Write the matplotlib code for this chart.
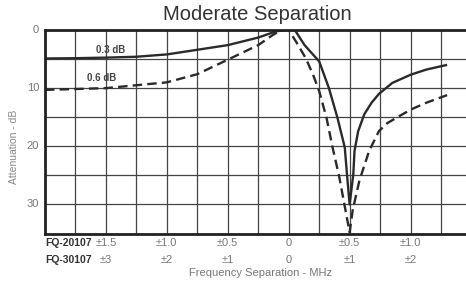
import matplotlib
matplotlib.use("Agg")
import matplotlib.pyplot as plt
import matplotlib.transforms as mtransforms

# ---- data (x in MHz on the FQ-20107 scale, y = attenuation in dB) ----
solid_x = [-2.0, -1.75, -1.5, -1.25, -1.0, -0.75, -0.5, -0.25, -0.1, 0.0, 0.05,
           0.13, 0.25, 0.33, 0.40, 0.46, 0.48, 0.50, 0.53, 0.54, 0.57, 0.62,
           0.68, 0.74, 0.85, 1.0, 1.13, 1.30]
solid_y = [4.9, 4.85, 4.75, 4.6, 4.2, 3.4, 2.6, 1.3, 0.2, 0.0, 0.0,
           2.6, 5.4, 10.0, 15.1, 20.2, 25.3, 30.0, 24.8, 20.8, 17.4, 14.5,
           12.5, 11.0, 9.1, 7.7, 6.8, 6.0]

dash_x = [-2.0, -1.5, -1.25, -1.0, -0.75, -0.5, -0.25, -0.13, -0.06, 0.0, 0.06,
          0.14, 0.20, 0.25, 0.31, 0.36, 0.415, 0.457, 0.50, 0.525, 0.58, 0.66,
          0.74, 0.81, 1.0, 1.13, 1.30]
dash_y = [10.3, 10.0, 9.5, 9.0, 7.6, 5.1, 2.6, 0.85, 0.0, 0.0, 2.0,
          4.85, 7.7, 10.5, 15.1, 20.2, 25.3, 30.0, 34.8, 31.0, 25.9, 20.8,
          17.4, 16.0, 13.7, 12.5, 11.2]

x_tick_pos = [-1.5, -1.0, -0.5, 0.0, 0.5, 1.0]
row1_labels = ["±1.5", "±1.0", "±0.5", "0", "±0.5", "±1.0"]
row2_labels = ["±3", "±2", "±1", "0", "±1", "±2"]
row1_name = "FQ-20107"
row2_name = "FQ-30107"
y_tick_pos = [0, 10, 20, 30]
y_tick_labels = ["0", "10", "20", "30"]
curve_labels = ["0.3 dB", "0.6 dB"]

plt.rcParams['font.family'] = ['Liberation Sans', 'DejaVu Sans']

W, H = 466, 283
fig = plt.figure(figsize=(W / 100, H / 100), dpi=100)
left, right, top, bottom = 45, 471.5, 30, 233.5
ax = fig.add_axes([left / W, 1 - bottom / H, (right - left) / W, (bottom - top) / H])

ax.set_xlim(-2.0, 1.5)
ax.set_ylim(35, 0)

grid_x = [i * 0.25 - 2.0 for i in range(15)]
grid_y = [i * 5 for i in range(8)]
ax.set_xticks(grid_x)
ax.set_yticks(grid_y)
ax.tick_params(length=0, labelbottom=False, labelleft=False)
ax.grid(True, color="#444444", linewidth=0.9)
ax.set_axisbelow(True)

for s in ["left", "bottom", "top"]:
    ax.spines[s].set_linewidth(2.0)
    ax.spines[s].set_color("#222222")
ax.spines["right"].set_visible(False)

ax.plot(solid_x, solid_y, color="#2a2a2a", lw=1.7, solid_capstyle="butt",
        solid_joinstyle="round")
ax.plot(dash_x, dash_y, color="#2a2a2a", lw=1.7, dashes=(4, 2.2))

# curve labels
ax.text(-1.465, 3.4, curve_labels[0], fontsize=7, fontweight="bold",
        color="#444444", ha="center", va="center")
ax.text(-1.535, 8.2, curve_labels[1], fontsize=7, fontweight="bold",
        color="#444444", ha="center", va="center")

# y tick labels (right edge 6 px left of the axis)
ytrans = mtransforms.blended_transform_factory(fig.transFigure, ax.transData)
for v, lab in zip(y_tick_pos, y_tick_labels):
    ax.text(39 / W, v, lab, transform=ytrans,
            fontsize=8, color="#777777", ha="right", va="center")

# x tick labels (two rows)
trans = mtransforms.blended_transform_factory(ax.transData, fig.transFigure)
for xv, l1, l2 in zip(x_tick_pos, row1_labels, row2_labels):
    ax.text(xv, 1 - 243 / H, l1, transform=trans, fontsize=8, color="#777777",
            ha="center", va="center")
    ax.text(xv, 1 - 260 / H, l2, transform=trans, fontsize=8, color="#777777",
            ha="center", va="center")
fig.text(45 / W, 1 - 243 / H, row1_name, fontsize=7.5, fontweight="bold",
         color="#333333", ha="left", va="center")
fig.text(45 / W, 1 - 260 / H, row2_name, fontsize=7.5, fontweight="bold",
         color="#333333", ha="left", va="center")

fig.text(261 / W, 1 - 273 / H, "Frequency Separation - MHz", fontsize=8,
         color="#777777", ha="center", va="center")
fig.text(14 / W, 1 - 147 / H, "Attenuation - dB", fontsize=7.5, color="#888888",
         rotation=90, ha="center", va="center")
fig.text(257.5 / W, 1 - 14 / H, "Moderate Separation", fontsize=14.5,
         color="#333333", ha="center", va="center")

fig.savefig("out.png", dpi=100, facecolor="white")
